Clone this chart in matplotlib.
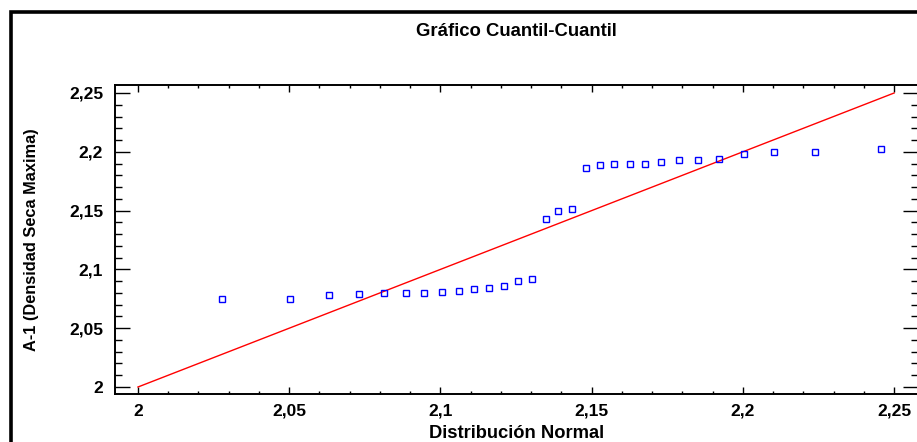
import matplotlib.pyplot as plt
from matplotlib.ticker import MultipleLocator, FixedLocator, FuncFormatter
from matplotlib.patches import Rectangle

plt.rcParams['font.family'] = ['Liberation Sans', 'DejaVu Sans']
plt.rcParams['font.weight'] = 'bold'

# quantiles of the normal distribution (x) vs. sorted sample (y)
normal_q = [2.0279, 2.0503, 2.0632, 2.0731, 2.0813, 2.0885, 2.0947, 2.1006,
            2.1061, 2.1111, 2.1161, 2.1210, 2.1256, 2.1302, 2.1348, 2.1389,
            2.1434, 2.1480, 2.1526, 2.1575, 2.1627, 2.1677, 2.1730, 2.1789,
            2.1851, 2.1921, 2.2005, 2.2104, 2.2238, 2.2458]
sample_q = [2.075, 2.075, 2.078, 2.079, 2.080, 2.080, 2.080, 2.081,
            2.082, 2.083, 2.084, 2.086, 2.090, 2.092, 2.143, 2.150,
            2.151, 2.186, 2.189, 2.190, 2.190, 2.190, 2.191, 2.193,
            2.193, 2.194, 2.198, 2.200, 2.200, 2.202]
ref_line = [2.0, 2.25]
major_ticks = [2.0, 2.05, 2.1, 2.15, 2.2, 2.25]

W, H = 917, 442
fig = plt.figure(figsize=(W / 100, H / 100), dpi=100)

# outer frame (runs off the right and bottom edges)
fig.patches.append(Rectangle((11 / W, -0.1), 1.2, (H - 12) / H + 0.1,
                             transform=fig.transFigure, fill=False,
                             edgecolor='black', linewidth=2.6))

ax_left, ax_bottom, ax_w, ax_h = 115, 48, 803, 309
ax = fig.add_axes([ax_left / W, ax_bottom / H, ax_w / W, ax_h / H])
ax.plot(ref_line, ref_line, color='red', linewidth=1.0, zorder=2)
ax.plot(normal_q, sample_q, linestyle='none', marker='s', markersize=5,
        markerfacecolor='none', markeredgecolor='blue', markeredgewidth=1.0,
        zorder=3)

ax.set_xlim(1.9924, 2.2579)
ax.set_ylim(1.99405, 2.2568)

fmt = FuncFormatter(lambda v, p: f"{v:g}".replace('.', ','))
for axis in (ax.xaxis, ax.yaxis):
    axis.set_major_locator(FixedLocator(major_ticks))
    axis.set_minor_locator(MultipleLocator(0.01))
    axis.set_major_formatter(fmt)

ax.tick_params(axis='both', which='both', direction='in', top=True, right=True,
               width=1.0, labelsize=12.5)
ax.tick_params(axis='y', which='major', length=10.5, pad=8.5)
ax.tick_params(axis='y', which='minor', length=5)
ax.tick_params(axis='x', which='major', length=5, pad=7)
ax.tick_params(axis='x', which='minor', length=2.5)
for lab in ax.get_xticklabels() + ax.get_yticklabels():
    lab.set_fontweight('bold')

for s in ax.spines.values():
    s.set_linewidth(1.4)

fig.text((ax_left + ax_w / 2) / W, (H - 32) / H, 'Gráfico Cuantil-Cuantil',
         ha='center', va='center', fontsize=13.3, fontweight='bold')

ax.set_xlabel('Distribución Normal', fontsize=13.2, fontweight='bold')
ax.xaxis.set_label_coords(0.5, -(433 - 394) / ax_h)
ax.xaxis.label.set_va('center')
ax.set_ylabel('A-1 (Densidad Seca Maxima)', fontsize=11.8, fontweight='bold')
ax.yaxis.set_label_coords(-(ax_left - 32) / ax_w, 0.5)
ax.yaxis.label.set_va('center')

fig.savefig('out.png', dpi=100)
